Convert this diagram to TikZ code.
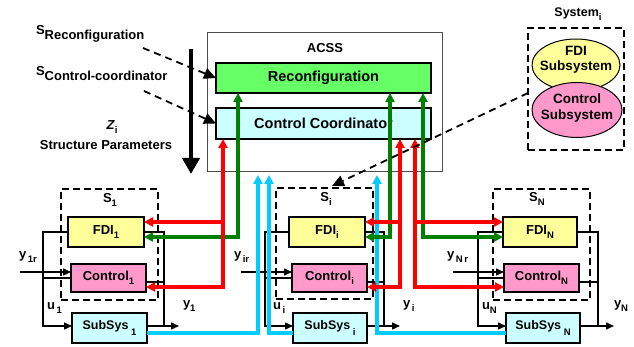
\documentclass[tikz,border=0pt]{standalone}
\usepackage{fontspec}
\setmainfont{Liberation Sans}
\usetikzlibrary{arrows.meta,shapes.geometric}
\definecolor{boxgreen}{HTML}{66FF66}
\definecolor{boxcyan}{HTML}{CCFFFF}
\definecolor{boxyellow}{HTML}{FFFF99}
\definecolor{boxpink}{HTML}{FF99CC}
\definecolor{linered}{HTML}{FF0000}
\definecolor{linegreen}{HTML}{008000}
\definecolor{linecyan}{HTML}{00CCFF}
\newcommand\lsub[1]{\raisebox{-4pt}{\fontsize{9.5}{9.5}\selectfont #1}}
\newcommand\fsz[1]{\fontsize{#1}{#1}\selectfont}
\begin{document}
\begin{tikzpicture}[x=1pt,y=-1pt,font=\bfseries\fsz{13},
  blockbox/.style={draw=black,line width=1.5pt,inner sep=0pt,outer sep=0pt},
  dashbox/.style={draw=black,line width=1.6pt,dash pattern=on 7pt off 4pt,inner sep=0pt,outer sep=0pt},
  blk/.style={draw=black,line width=1.5pt},
  blkarrow/.style={blk,-{Triangle[length=8pt,width=7pt]}},
  colarrow/.style={line width=3.2pt,-{Triangle[length=9pt,width=9pt]}},
  colboth/.style={line width=3.2pt,{Triangle[length=9pt,width=9pt]}-{Triangle[length=9pt,width=9pt]}},
  dasharrow/.style={draw=black,line width=1.8pt,dash pattern=on 7pt off 5pt,-{Triangle[length=12pt,width=11pt]}},
  lbl/.style={inner sep=0pt,outer sep=0pt}]
\useasboundingbox (0,0) rectangle (634,347);

% ---------- ACSS ----------
\node[draw=black!70,line width=1pt,minimum width=235pt,minimum height=139pt,inner sep=0pt,outer sep=0pt] (ACSS) at (324.5,102.5) {};
\node[lbl] (ACSSlbl) at (325,48) {ACSS};
\node[blockbox,fill=boxgreen,minimum width=215pt,minimum height=30pt,font=\bfseries\fsz{14.5}] (Reconf) at (323.5,78) {Reconfiguration};
\node[blockbox,fill=boxcyan,minimum width=215pt,minimum height=31pt,font=\bfseries\fsz{14.5}] (CC) at (323.5,123.5) {Control Coordinator};

% ---------- left labels ----------
\node[lbl,anchor=base west] (sreconf) at (36,35) {S\raisebox{-5pt}{Reconfiguration}};
\node[lbl,anchor=base west] (scc) at (36,76) {S\raisebox{-5pt}{Control-coordinator}};
\node[lbl] (zi) at (112,127) {\textit{Z}\lsub{i}};
\node[lbl] (sp) at (106,145) {Structure Parameters};
\coordinate (bigtop) at (191,49);
\coordinate (bigbot) at (191,174);
\draw[line width=4.5pt,-{Triangle[length=16pt,width=17pt]}] (bigtop) -- (bigbot);
\coordinate (d1s) at (143,48);
\coordinate (d2s) at (144,91);
\draw[dasharrow] (d1s) -- (Reconf.west);
\draw[dasharrow] (d2s) -- (CC.west);

% ---------- System_i ----------
\node[dashbox,minimum width=96pt,minimum height=122pt] (Sysbox) at (576,89) {};
\node[lbl,font=\bfseries\fsz{12.5}] (syslbl) at (578,14) {System\lsub{i}};
\node[draw=black,line width=1pt,fill=boxyellow,ellipse,minimum width=88pt,minimum height=52pt,inner sep=0pt] (fdisub) at (576,65) {};
\node[draw=black,line width=1pt,fill=boxpink,ellipse,minimum width=90pt,minimum height=55pt,inner sep=0pt] (ctlsub) at (577,110) {};
\node[lbl,align=center,font=\bfseries\fsz{13.5}] (fditxt) at (576,60) {FDI\\[2pt]Subsystem};
\node[lbl,align=center,font=\bfseries\fsz{13.5}] (ctltxt) at (577,108) {Control\\[2pt]Subsystem};

% ---------- subsystem blocks ----------
\node[dashbox,minimum width=97pt,minimum height=111pt] (S1box) at (109.5,244.5) {};
\node[dashbox,minimum width=97pt,minimum height=111pt] (Sibox) at (324.5,243.5) {};
\node[dashbox,minimum width=97pt,minimum height=111pt] (SNbox) at (541.5,244.5) {};
\node[lbl] (S1lbl) at (110,200) {S\lsub{1}};
\node[lbl] (Silbl) at (326,199) {S\lsub{i}};
\node[lbl] (SNlbl) at (537,199) {S\lsub{N}};

\node[blockbox,fill=boxyellow,minimum width=76pt,minimum height=30pt] (FDI1) at (106,232) {FDI\lsub{1}};
\node[blockbox,fill=boxpink,minimum width=75pt,minimum height=28pt] (Ctl1) at (108.5,278) {Control\lsub{1}};
\node[blockbox,fill=boxcyan,minimum width=75pt,minimum height=30pt,font=\bfseries\fsz{12.5}] (Sub1) at (109.5,328) {SubSys\raisebox{-6pt}{\fsz{9.5} 1}};

\node[blockbox,fill=boxyellow,minimum width=76pt,minimum height=30pt] (FDIi) at (327,232) {FDI\lsub{i}};
\node[blockbox,fill=boxpink,minimum width=75pt,minimum height=28pt] (Ctli) at (329.5,278) {Control\lsub{i}};
\node[blockbox,fill=boxcyan,minimum width=74pt,minimum height=30pt,font=\bfseries\fsz{12.5}] (Subi) at (330,328) {SubSys\raisebox{-6pt}{\fsz{9.5} i}};

\node[blockbox,fill=boxyellow,minimum width=74pt,minimum height=30pt] (FDIN) at (540,232) {FDI\lsub{N}};
\node[blockbox,fill=boxpink,minimum width=75pt,minimum height=28pt] (CtlN) at (541.5,278) {Control\lsub{N}};
\node[blockbox,fill=boxcyan,minimum width=74pt,minimum height=30pt,font=\bfseries\fsz{12.5}] (SubN) at (543,328) {SubSys\raisebox{-6pt}{\fsz{9.5} N}};

% ---------- black wiring ----------
% S1
\coordinate (a1) at (43,232); \coordinate (b1) at (43,326); \coordinate (m1) at (43,278);
\coordinate (in1) at (20,272); \coordinate (d1) at (164,232); \coordinate (e1) at (164,326);
\coordinate (k1) at (164,282); \coordinate (o1) at (179,326);
\draw[blkarrow] (FDI1.west) -- (a1) -- (b1) -- (Sub1.west |- b1);
\draw[blk] (m1) -- (Ctl1.west);
\draw[blkarrow] (in1) -- (Ctl1.west |- in1);
\draw[blk] (FDI1.east) -- (d1) -- (e1);
\draw[blk] (Ctl1.east |- k1) -- (k1);
\draw[blkarrow] (Sub1.east |- e1) -- (o1);
% Si
\coordinate (ai) at (265,232); \coordinate (bi) at (265,326); \coordinate (mi) at (265,278);
\coordinate (ini) at (241,272); \coordinate (di) at (384,232); \coordinate (ei) at (384,326);
\coordinate (ki) at (384,282); \coordinate (oi) at (400,326);
\draw[blkarrow] (FDIi.west) -- (ai) -- (bi) -- (Subi.west |- bi);
\draw[blk] (mi) -- (Ctli.west);
\draw[blkarrow] (ini) -- (Ctli.west |- ini);
\draw[blk] (FDIi.east) -- (di) -- (ei);
\draw[blk] (Ctli.east |- ki) -- (ki);
\draw[blkarrow] (Subi.east |- ei) -- (oi);
% SN
\coordinate (aN) at (478,232); \coordinate (bN) at (478,326); \coordinate (mN) at (478,278);
\coordinate (inN) at (453,272); \coordinate (dN) at (598,232); \coordinate (eN) at (598,326);
\coordinate (kN) at (598,282); \coordinate (oN) at (614,326);
\draw[blkarrow] (FDIN.west) -- (aN) -- (bN) -- (SubN.west |- bN);
\draw[blk] (mN) -- (CtlN.west);
\draw[blkarrow] (inN) -- (CtlN.west |- inN);
\draw[blk] (FDIN.east) -- (dN) -- (eN);
\draw[blk] (CtlN.east |- kN) -- (kN);
\draw[blkarrow] (SubN.east |- eN) -- (oN);

% signal labels
\node[lbl,anchor=west] (y1r) at (19,257) {y\lsub{\,1r}};
\node[lbl,anchor=west] (u1) at (47,308) {u\lsub{\,1}};
\node[lbl,anchor=west] (y1) at (183,306) {y\lsub{1}};
\node[lbl,anchor=west] (yir) at (234,257) {y\lsub{\,ir}};
\node[lbl,anchor=west] (ui) at (273,308) {u\lsub{\,i}};
\node[lbl,anchor=west] (yi) at (403,306) {y\lsub{\,i}};
\node[lbl,anchor=west] (yNr) at (447,257) {y\lsub{\,N\,r}};
\node[lbl,anchor=west] (uN) at (482,308) {u\lsub{N}};
\node[lbl,anchor=west] (yN) at (614,306) {y\lsub{N}};

% ---------- cyan lines ----------
\coordinate (c1) at (258,333); \coordinate (ci) at (269,333); \coordinate (cN) at (377,333);
\draw[colarrow,linecyan,shorten >=3pt] (Sub1.east |- c1) -- (c1) -- (c1 |- ACSS.south);
\draw[colarrow,linecyan,shorten >=3pt] (Subi.west |- ci) -- (ci) -- (ci |- ACSS.south);
\draw[colarrow,linecyan,shorten >=3pt] (SubN.west |- cN) -- (cN) -- (cN |- ACSS.south);

% ---------- green lines ----------
\coordinate (g1) at (238,237); \coordinate (gi) at (390,237); \coordinate (gN) at (423,237);
\draw[colboth,linegreen] (FDI1.east |- g1) -- (g1) -- (g1 |- Reconf.south);
\draw[colboth,linegreen] (FDIi.east |- gi) -- (gi) -- (gi |- Reconf.south);
\draw[colboth,linegreen] (FDIN.west |- gN) -- (gN) -- (gN |- Reconf.south);

% ---------- red lines ----------
\coordinate (r1) at (223,287); \coordinate (r1a) at (223,222);
\coordinate (ri) at (400,287); \coordinate (ria) at (400,222);
\coordinate (rN) at (415,287); \coordinate (rNa) at (415,222);
\draw[colboth,linered] (Ctl1.east |- r1) -- (r1) -- (r1 |- CC.south);
\draw[colarrow,linered] (r1a) -- (FDI1.east |- r1a);
\draw[colboth,linered] (Ctli.east |- ri) -- (ri) -- (ri |- CC.south);
\draw[colarrow,linered] (ria) -- (FDIi.east |- ria);
\draw[colboth,linered] (CtlN.west |- rN) -- (rN) -- (rN |- CC.south);
\draw[colarrow,linered] (rNa) -- (FDIN.west |- rNa);

% ---------- dashed arrow System_i -> S_i ----------
\coordinate (sysout) at (528,93);
\coordinate (sitip) at (332,186);
\draw[dasharrow] (sysout) -- (sitip);
\end{tikzpicture}
\end{document}
